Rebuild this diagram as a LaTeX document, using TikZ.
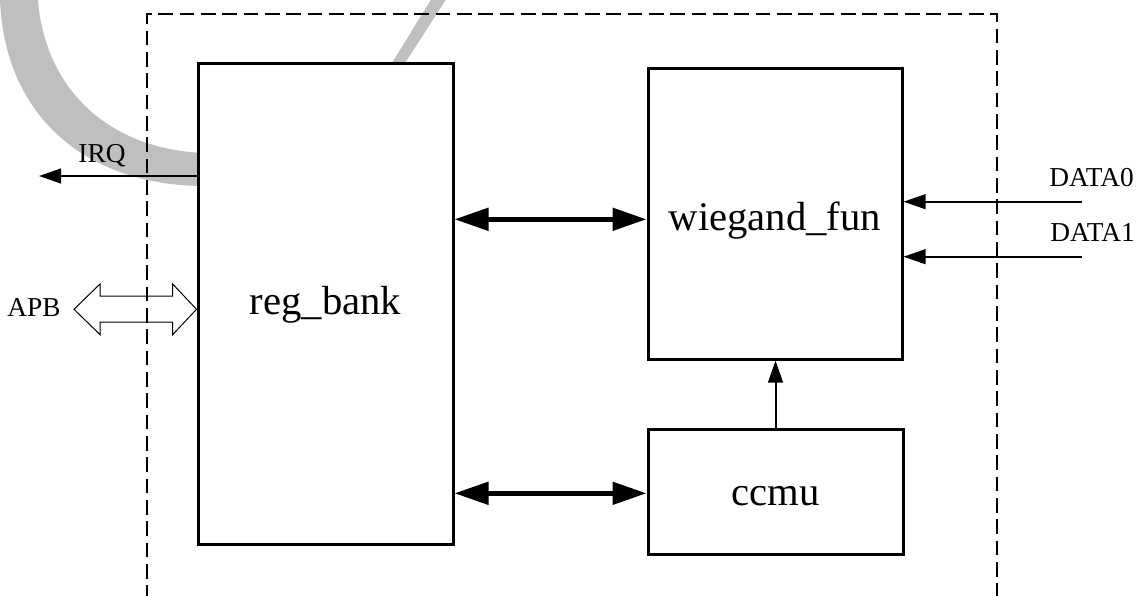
\documentclass[tikz,border=0pt]{standalone}
\usepackage{fontspec}
\setmainfont{Liberation Serif}
\usetikzlibrary{arrows.meta}
\begin{document}
\begin{tikzpicture}[x=0.75pt,y=-0.75pt,
  box/.style={draw, line width=2.25pt, fill=white, inner sep=0pt, font=\fontsize{30.5pt}{36pt}\selectfont},
  lbl/.style={inner sep=0pt, anchor=base, font=\fontsize{20.5pt}{24pt}\selectfont},
  frame/.style={line width=1.5pt, dash pattern=on 11pt off 5pt},
  thinarrow/.style={line width=1.6pt, -{Triangle[length=16.5pt,width=11pt]}},
  bus/.style={line width=3.75pt, {Triangle[length=25.5pt,width=16.5pt]}-{Triangle[length=25.5pt,width=16.5pt]}},
  hollow/.style={line width=0.75pt},
  wm/.style={fill=black!25}]
\clip (0,0) rectangle (1146,596);
\fill[white] (0,0) rectangle (1146,596);
% watermark arc
\fill[wm] (0,0) .. controls (5,120) and (90,186) .. (205,186) -- (405,63) -- (447,-2) -- (432,-2) -- (392,63) -- (205,153) .. controls (110,150) and (45,90) .. (38,0) -- cycle;
% dashed frame
\draw[frame] (147,600) -- (147,14) -- (997,14) -- (997,600);
% boxes
\node[box, minimum width=191.25pt, minimum height=360.75pt, text height=15.75pt, text depth=0pt] (reg) at (325.5,303.5) {reg\_bank};
\node[box, minimum width=190.5pt, minimum height=218.25pt, text height=24.75pt, text depth=0pt] (wf) at (775,213.5) {wiegand\_fun};
\node[box, minimum width=191.25pt, minimum height=93.75pt, text height=21pt, text depth=0pt] (cc) at (775.5,491.8) {ccmu};
% buses
\draw[bus] (reg.east |- 0,219.3) -- (wf.west |- 0,219.3);
\draw[bus] (reg.east |- 0,493.3) -- (cc.west |- 0,493.3);
% ccmu -> wiegand
\draw[thinarrow, line width=1.5pt] (cc.north) -- (cc.north |- wf.south);
% IRQ
\coordinate (irqend) at (39,176);
\draw[thinarrow] (reg.west |- irqend) -- (irqend);
\node[lbl] (irq) at (102,162.5) {IRQ};
% DATA inputs
\coordinate (d0) at (1082,201.7);
\coordinate (d1) at (1082,256.7);
\draw[thinarrow] (d0) -- (wf.east |- d0);
\draw[thinarrow] (d1) -- (wf.east |- d1);
\node[lbl] (data0) at (1091.5,186.7) {DATA0};
\node[lbl] (data1) at (1092.5,241.7) {DATA1};
% APB hollow double arrow
\draw[hollow] (74,309.3) -- (100,284) -- (100,296) -- (172.7,296) -- (172.7,284) -- (reg.west |- 0,309.3) -- (172.7,334.6) -- (172.7,322) -- (100,322) -- (100,334.6) -- cycle;
\node[lbl] (apb) at (34,316.7) {APB};
\end{tikzpicture}
\end{document}
